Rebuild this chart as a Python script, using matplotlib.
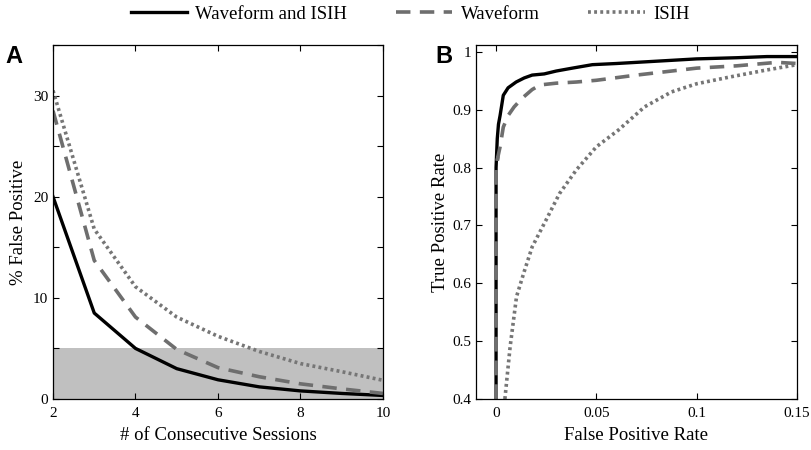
import matplotlib.pyplot as plt
from matplotlib.ticker import MultipleLocator, FuncFormatter

# Panel A: % false positive vs. number of consecutive sessions
sessions = [2, 3, 4, 5, 6, 7, 8, 9, 10]
fp_both = [20.0, 8.5, 5.0, 3.0, 1.9, 1.2, 0.8, 0.55, 0.35]
fp_wave = [28.5, 13.7, 8.1, 4.9, 3.1, 2.2, 1.5, 1.0, 0.55]
fp_isih = [30.5, 16.8, 11.1, 8.1, 6.2, 4.7, 3.5, 2.7, 1.85]
threshold = 5

# Panel B: ROC curves
roc_both_x = [0, 0, 0.0006, 0.0012, 0.002, 0.0036, 0.006, 0.01, 0.014, 0.018, 0.024, 0.03,
              0.038, 0.048, 0.06, 0.08, 0.1, 0.12, 0.135, 0.15]
roc_both_y = [0.4, 0.8, 0.85, 0.875, 0.89, 0.925, 0.938, 0.948, 0.955, 0.96, 0.962, 0.967,
              0.972, 0.978, 0.98, 0.984, 0.988, 0.99, 0.992, 0.992]
roc_wave_x = [0, 0, 0.001, 0.002, 0.0036, 0.006, 0.009, 0.013, 0.018, 0.022, 0.03, 0.04,
              0.05, 0.07, 0.1, 0.12, 0.14, 0.15]
roc_wave_y = [0.4, 0.8, 0.82, 0.836, 0.87, 0.89, 0.905, 0.92, 0.935, 0.943, 0.946, 0.948,
              0.951, 0.96, 0.972, 0.976, 0.982, 0.98]
roc_isih_x = [0.0044, 0.007, 0.0102, 0.014, 0.018, 0.025, 0.0316, 0.04, 0.05, 0.061, 0.074,
              0.0875, 0.1, 0.117, 0.1336, 0.15]
roc_isih_y = [0.4, 0.49, 0.577, 0.62, 0.663, 0.71, 0.755, 0.796, 0.836, 0.865, 0.905,
              0.931, 0.945, 0.957, 0.968, 0.978]

labels = ["Waveform and ISIH", "Waveform", "ISIH"]

plt.rcParams['font.family'] = ['Liberation Serif', 'DejaVu Serif']
plt.rcParams['xtick.direction'] = 'in'
plt.rcParams['ytick.direction'] = 'in'
plt.rcParams['xtick.top'] = True
plt.rcParams['ytick.right'] = True

dark_gray = '#6e6e6e'
dot_gray = '#767676'
dash_style = (4, 2.6)
dot_style = (0.8, 0.9)

fig = plt.figure(figsize=(8.12, 4.5), dpi=100)
ax1 = fig.add_axes([53 / 812, 1 - 399 / 450, 330 / 812, 354 / 450])
ax2 = fig.add_axes([476 / 812, 1 - 399 / 450, 321 / 812, 354 / 450])

# Panel A
ax1.axhspan(0, threshold, color='#c0c0c0', lw=0, zorder=0)
h1, = ax1.plot(sessions, fp_both, color='black', lw=2.4, label=labels[0])
h2, = ax1.plot(sessions, fp_wave, color=dark_gray, lw=2.6, dashes=dash_style, label=labels[1])
h3, = ax1.plot(sessions, fp_isih, color=dot_gray, lw=2.6, dashes=dot_style, label=labels[2])
ax1.set_xlim(2, 10)
ax1.set_ylim(0, 35)
ax1.xaxis.set_major_locator(MultipleLocator(2))
ax1.yaxis.set_major_locator(MultipleLocator(5))
ax1.yaxis.set_major_formatter(FuncFormatter(lambda v, p: f"{v:.0f}" if v % 10 == 0 else ""))
ax1.set_xlabel("# of Consecutive Sessions", fontsize=13.5, labelpad=5)
ax1.set_ylabel("% False Positive", fontsize=13.5, labelpad=4)
ax1.text(-0.145, 1.0, "A", transform=ax1.transAxes, fontsize=17, fontweight='bold',
         family='Liberation Sans', va='top')

# Panel B
ax2.plot(roc_isih_x, roc_isih_y, color=dot_gray, lw=2.6, dashes=dot_style)
ax2.plot(roc_wave_x, roc_wave_y, color=dark_gray, lw=2.6, dashes=dash_style)
ax2.plot(roc_both_x, roc_both_y, color='black', lw=2.4, zorder=1)
ax2.plot(roc_wave_x[:3], roc_wave_y[:3], color=dark_gray, lw=2.6, dashes=dash_style)
ax2.set_xlim(-0.01, 0.15)
ax2.set_ylim(0.4, 1.012)
ax2.set_xticks([0, 0.05, 0.1, 0.15])
ax2.set_xticklabels(["0", "0.05", "0.1", "0.15"])
ax2.set_yticks([0.4, 0.5, 0.6, 0.7, 0.8, 0.9, 1.0])
ax2.set_yticklabels(["0.4", "0.5", "0.6", "0.7", "0.8", "0.9", "1"])
ax2.set_xlabel("False Positive Rate", fontsize=13.5, labelpad=5)
ax2.set_ylabel("True Positive Rate", fontsize=13.5, labelpad=2)
ax2.text(-0.127, 1.0, "B", transform=ax2.transAxes, fontsize=17, fontweight='bold',
         family='Liberation Sans', va='top')

for ax in (ax1, ax2):
    ax.tick_params(labelsize=11, length=4, width=0.8)
    ax.tick_params(axis='x', pad=6)
    for s in ax.spines.values():
        s.set_linewidth(0.9)

fig.legend(handles=[h1, h2, h3], labels=labels, loc='upper center', ncol=3,
           bbox_to_anchor=(0.505, 1.025), frameon=False, fontsize=13.5,
           handlelength=3.0, columnspacing=2.6, handletextpad=0.45)

fig.savefig("out.png", dpi=100)
